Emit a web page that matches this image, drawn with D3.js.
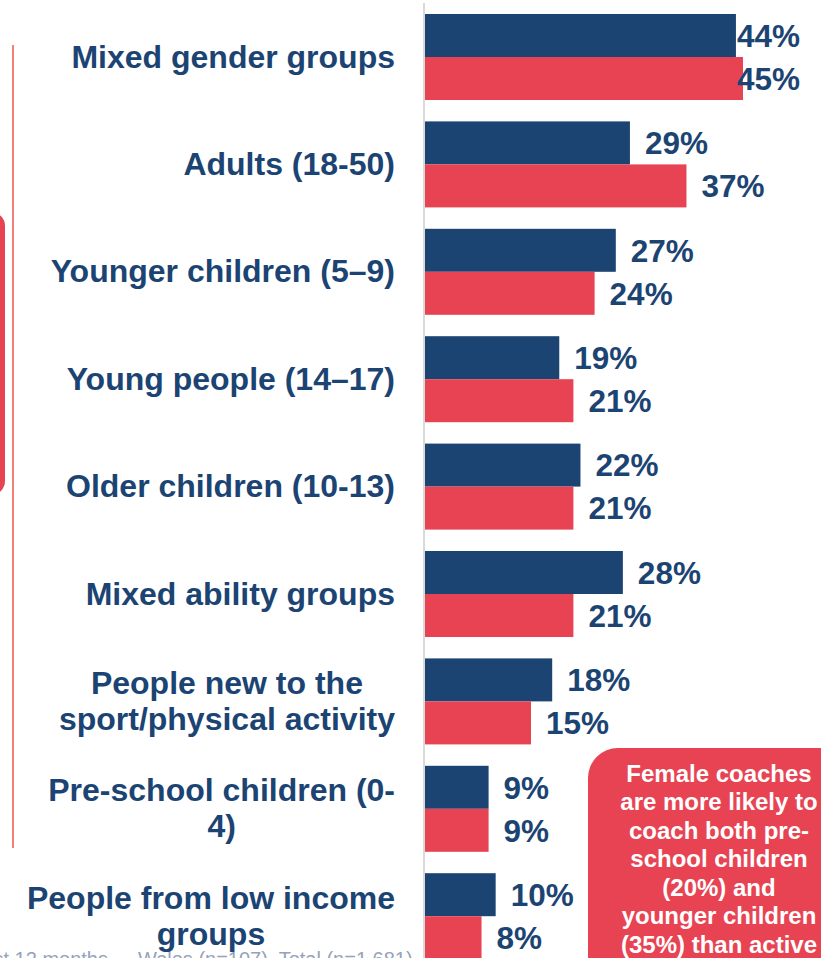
<!DOCTYPE html>
<html>
<head>
<meta charset="utf-8">
<script src="https://cdn.jsdelivr.net/npm/d3@7"></script>
<style>
  html, body { margin: 0; padding: 0; background: #fff; overflow: hidden; }
  svg { display: block; font-family: "Liberation Sans", Arial, sans-serif; }
</style>
</head>
<body>
<svg width="821" height="958"></svg>
<script>
const categories = [
    ["Mixed gender groups"],
    ["Adults (18-50)"],
    ["Younger children (5–9)"],
    ["Young people (14–17)"],
    ["Older children (10-13)"],
    ["Mixed ability groups"],
    ["People new to the", "sport/physical activity"],
    ["Pre-school children (0-", "4)"],
    ["People from low income", "groups"]
];
const wales = [44, 29, 27, 19, 22, 28, 18, 9, 10];
const total = [45, 37, 24, 21, 21, 21, 15, 9, 8];
const calloutLines = [
    "Female coaches",
    "are more likely to",
    "coach both pre-",
    "school children",
    "(20%) and",
    "younger children",
    "(35%) than active"
];

const navy = "#1c4473", red = "#e84352";

const svg = d3.select("svg"),
    width = +svg.attr("width"),
    height = +svg.attr("height");

const x = d3.scaleLinear().domain([0, 45]).range([425, 743]);
const y = d3.scaleBand()
    .domain(d3.range(categories.length))
    .range([14 - 21.4 / 2, 14 - 21.4 / 2 + 107.4 * categories.length])
    .paddingInner(21.4 / 107.4)
    .paddingOuter(0.5 * 21.4 / 107.4);
const sub = d3.scaleBand().domain(["wales", "total"]).range([0, y.bandwidth()]);

// left decoration
svg.append("rect")
    .attr("x", -40).attr("y", 212).attr("width", 45).attr("height", 283)
    .attr("rx", 14).attr("fill", red);
svg.append("line")
    .attr("x1", 13).attr("x2", 13).attr("y1", 45).attr("y2", 848)
    .attr("stroke", "#ef3b36").attr("stroke-width", 1.3);

// footnote (partly cut off in the source)
svg.append("text")
    .attr("x", 108).attr("y", 966)
    .attr("text-anchor", "end")
    .attr("font-size", 20).attr("fill", "#94a3b8")
    .text("in the last 12 months");
svg.append("text")
    .attr("x", 138).attr("y", 966)
    .attr("font-size", 20).attr("fill", "#94a3b8")
    .text("Wales (n=107), Total (n=1,681)");

// axis line
svg.append("line")
    .attr("x1", 424).attr("x2", 424).attr("y1", 3).attr("y2", height)
    .attr("stroke", "#d9d9d9").attr("stroke-width", 2);

const rows = categories.map(function (c, i) {
    return { label: c, i: i, wales: wales[i], total: total[i] };
});

const g = svg.selectAll(".row")
    .data(rows)
    .enter().append("g")
    .attr("class", "row")
    .attr("transform", function (d) { return "translate(0," + y(d.i) + ")"; });

["wales", "total"].forEach(function (key) {
    g.append("rect")
        .attr("x", x(0))
        .attr("y", sub(key))
        .attr("width", function (d) { return x(d[key]) - x(0); })
        .attr("height", sub.bandwidth())
        .attr("fill", key === "wales" ? navy : red);

    g.append("text")
        .attr("x", function (d) { return Math.min(x(d[key]) + 15, 737); })
        .attr("y", sub(key) + sub.bandwidth() / 2)
        .attr("dy", "0.36em")
        .attr("font-size", 31.5).attr("font-weight", "bold")
        .attr("fill", navy)
        .text(function (d) { return d[key] + "%"; });
});

// category labels
const lineH = 36;
g.each(function (d) {
    const sel = d3.select(this);
    const n = d.label.length;
    const cy = y.bandwidth() / 2 - 1;
    const texts = d.label.map(function (t, k) {
        return sel.append("text")
            .attr("y", cy + (k - (n - 1) / 2) * lineH)
            .attr("dy", "0.36em")
            .attr("font-size", 32).attr("font-weight", "bold")
            .attr("fill", navy)
            .text(t);
    });
    const widths = texts.map(function (t) { return t.node().getComputedTextLength(); });
    const maxW = d3.max(widths);
    const center = 395 - maxW / 2;
    texts.forEach(function (t) {
        t.attr("x", center).attr("text-anchor", "middle");
    });
});

// callout box
svg.append("rect")
    .attr("x", 588).attr("y", 748).attr("width", 280).attr("height", 260)
    .attr("rx", 30).attr("fill", red);
svg.append("g").selectAll("text")
    .data(calloutLines)
    .enter().append("text")
    .attr("x", 719)
    .attr("y", function (d, i) { return 773 + i * 28.5; })
    .attr("dy", "0.36em")
    .attr("text-anchor", "middle")
    .attr("font-size", 24).attr("font-weight", "bold")
    .attr("fill", "#fff")
    .text(function (d) { return d; });
</script>
</body>
</html>
